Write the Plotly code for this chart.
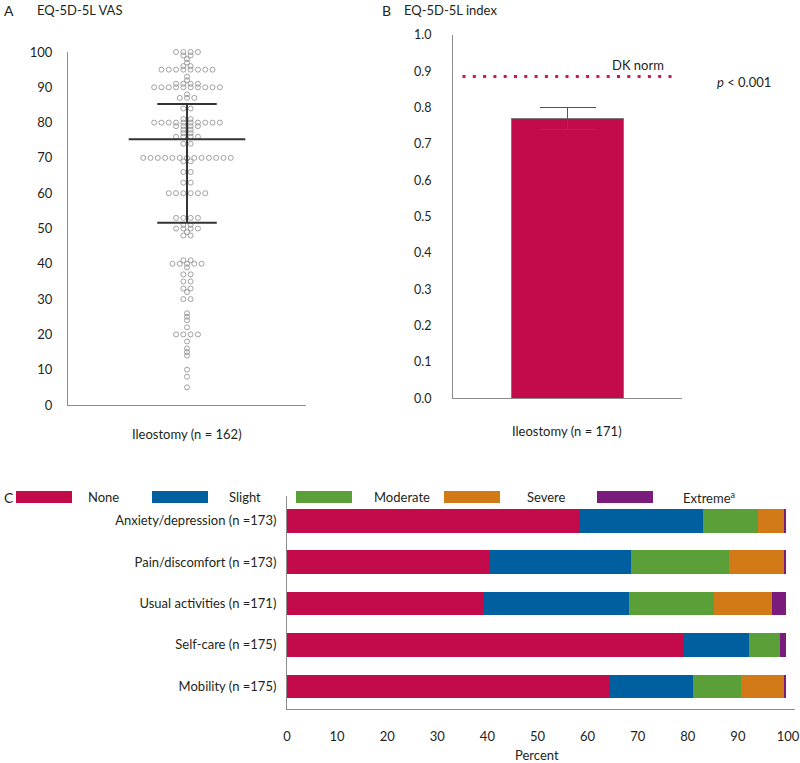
import plotly.graph_objects as go

# ---------------- Data ----------------
# Panel A: EQ-5D-5L VAS (values and number of dots at each value)
vas_levels = [100, 99, 98, 97, 96, 95, 93, 92, 91, 90, 88, 87, 84, 81, 80, 79, 78, 77, 76, 74,
              70, 69, 66, 63, 60, 53, 51, 50, 49, 48, 41, 40, 39, 37, 35, 33, 32, 30,
              26, 25, 24, 22, 20, 18, 16, 15, 14, 10, 8, 5]
vas_counts = [4, 2, 1, 1, 2, 8, 1, 1, 4, 10, 1, 3, 2, 2, 10, 4, 2, 2, 4, 2,
              13, 2, 2, 2, 6, 4, 2, 4, 1, 2, 2, 5, 1, 2, 2, 2, 1, 2,
              1, 1, 1, 1, 4, 1, 1, 1, 1, 1, 1, 1]
vas_median = 75.3
vas_q1 = 51.6
vas_q3 = 85.3
vas_label = "Ileostomy (n = 162)"

# Panel B: EQ-5D-5L index
index_mean = 0.77
index_err = 0.03
dk_norm = 0.886
index_label = "Ileostomy (n = 171)"
index_ticks = [0.0, 0.1, 0.2, 0.3, 0.4, 0.5, 0.6, 0.7, 0.8, 0.9, 1.0]

# Panel C: distribution of levels (percent)
dimensions = ["Anxiety/depression (n =173)", "Pain/discomfort (n =173)",
              "Usual activities (n =171)", "Self-care (n =175)", "Mobility (n =175)"]
level_names = ["None", "Slight", "Moderate", "Severe", "Extreme<sup>a</sup>"]
none_pct = [58.3, 40.5, 39.1, 79.2, 64.4]
slight_pct = [24.7, 28.2, 29.1, 13.1, 16.6]
moderate_pct = [11.0, 19.6, 17.0, 6.2, 9.7]
severe_pct = [5.2, 10.9, 11.6, 0.0, 8.5]
extreme_pct = [0.5, 0.5, 2.9, 1.2, 0.5]
percent_ticks = [0, 10, 20, 30, 40, 50, 60, 70, 80, 90, 100]

# ---------------- Style ----------------
FONT = "Lato"
TXT = "#231F20"
AXC = "#8C8C8C"
colors = ["#C30A4A", "#005F9E", "#5B9F38", "#D17A17", "#7B1B7C"]
W, H = 800, 763


def px(x):
    return x / W


def py(y):
    return 1 - y / H


fig = go.Figure()

# ---------------- Panel A ----------------
spacing = 0.0613
xs, ys = [], []
for v, n in zip(vas_levels, vas_counts):
    for i in range(n):
        xs.append((i - (n - 1) / 2) * spacing)
        ys.append(v)
fig.add_trace(go.Scatter(
    x=xs, y=ys, mode="markers", xaxis="x", yaxis="y", cliponaxis=False,
    marker=dict(symbol="circle-open", size=5, color="#8a8a8a", line=dict(width=0.8)),
    showlegend=False, hoverinfo="y"))
# median and IQR lines
fig.add_trace(go.Scatter(x=[-0.49, 0.49], y=[vas_median, vas_median], mode="lines",
                         line=dict(color="#333", width=2), xaxis="x", yaxis="y", showlegend=False))
for q in (vas_q1, vas_q3):
    fig.add_trace(go.Scatter(x=[-0.25, 0.25], y=[q, q], mode="lines",
                             line=dict(color="#333", width=2), xaxis="x", yaxis="y", showlegend=False))
fig.add_trace(go.Scatter(x=[0, 0], y=[vas_q1, vas_q3], mode="lines",
                         line=dict(color="#333", width=2), xaxis="x", yaxis="y", showlegend=False))

# ---------------- Panel B ----------------
fig.add_trace(go.Bar(
    x=[0], y=[index_mean], width=0.98, xaxis="x2", yaxis="y2",
    marker=dict(color=colors[0], line=dict(color="#7a7a7a", width=1)),
    error_y=dict(type="data", array=[index_err], arrayminus=[index_err],
                 color="#555", thickness=1.2, width=28),
    showlegend=False))

# ---------------- Panel C ----------------
series = [none_pct, slight_pct, moderate_pct, severe_pct, extreme_pct]
for name, vals, col in zip(level_names, series, colors):
    fig.add_trace(go.Bar(
        y=dimensions, x=vals, orientation="h", name=name, width=0.565,
        marker=dict(color=col, line=dict(width=0)), xaxis="x3", yaxis="y3",
        showlegend=False))

common = dict(showgrid=False, zeroline=False, automargin=False, ticks="", showline=True,
              linecolor=AXC, linewidth=1)
fig.update_layout(
    template="none",
    width=W, height=H, margin=dict(l=0, r=0, t=0, b=0, pad=0), autosize=False,
    paper_bgcolor="white", plot_bgcolor="white",
    font=dict(family=FONT, size=12.5, color=TXT),
    barmode="stack",
    xaxis=dict(domain=[px(68), px(306)], range=[-1, 1], showticklabels=False,
               anchor="y", **common),
    yaxis=dict(domain=[py(405), py(52)], range=[0, 100],
               tickvals=list(range(0, 101, 10)), ticklabelstandoff=12, anchor="x",
               tickfont=dict(size=13), **common),
    xaxis2=dict(domain=[px(453), px(682)], range=[-1, 1], showticklabels=False,
                anchor="y2", **common),
    yaxis2=dict(domain=[py(398.3), py(35)], range=[0, 1], tickvals=index_ticks,
                tickformat=".1f", ticklabelstandoff=18, anchor="x2", **common),
    xaxis3=dict(domain=[px(287), px(795)], range=[0, 101.4], tickvals=percent_ticks,
                ticklabelstandoff=15, anchor="y3", tickfont=dict(size=13), **common),
    yaxis3=dict(domain=[py(709), py(496)], range=[-0.55, 4.6],
                categoryorder="array", categoryarray=dimensions[::-1],
                ticklabelstandoff=7, anchor="x3", tickfont=dict(size=13), **common),
)

shapes = []
# DK norm dotted line
shapes.append(dict(type="line", xref="x2", yref="y2", x0=-0.917, x1=0.943, y0=dk_norm, y1=dk_norm,
                   line=dict(color="#D0145A", width=3, dash="3px,7.3px")))
# bracket
shapes.append(dict(type="path", xref="x2", yref="y2",
                   path=f"M 1.013 {dk_norm} L 1.162 {dk_norm} L 1.162 {index_mean} L 1.013 {index_mean}",
                   line=dict(color=AXC, width=1.5)))
# legend swatches for panel C
sw_x = [16, 152, 296, 444, 597]
for x0, col in zip(sw_x, colors):
    shapes.append(dict(type="rect", xref="paper", yref="paper", x0=px(x0), x1=px(x0 + 56),
                       y0=py(503), y1=py(491), fillcolor=col, line=dict(width=0)))
fig.update_layout(shapes=shapes)

ann = []


def add_text(text, x, y, size=13, xanchor="left", yanchor="middle"):
    ann.append(dict(text=text, x=px(x), y=py(y), xref="paper", yref="paper", showarrow=False,
                    xanchor=xanchor, yanchor=yanchor, font=dict(size=size, family=FONT, color=TXT)))


add_text("A", 2, 10, size=14)
add_text("EQ-5D-5L VAS", 35, 10)
add_text("B", 380, 10, size=14)
add_text("EQ-5D-5L index", 402, 10)
add_text("C", 2, 497, size=14)
add_text(vas_label, 187, 434, xanchor="center")
add_text(index_label, 567, 431, xanchor="center")
add_text("DK norm", 638, 65, xanchor="center")
add_text("<i>p</i> < 0.001", 715, 82)
add_text("Percent", 537, 755, xanchor="center")
leg_text_x = [103, 245, 402, 546, 709]
for name, x in zip(level_names, leg_text_x):
    add_text(name, x, 497, xanchor="center")
fig.update_layout(annotations=ann)

fig.write_html("out.html", config={"displayModeBar": False},
               post_script="document.body.style.margin='0px';document.body.style.padding='0px';")
